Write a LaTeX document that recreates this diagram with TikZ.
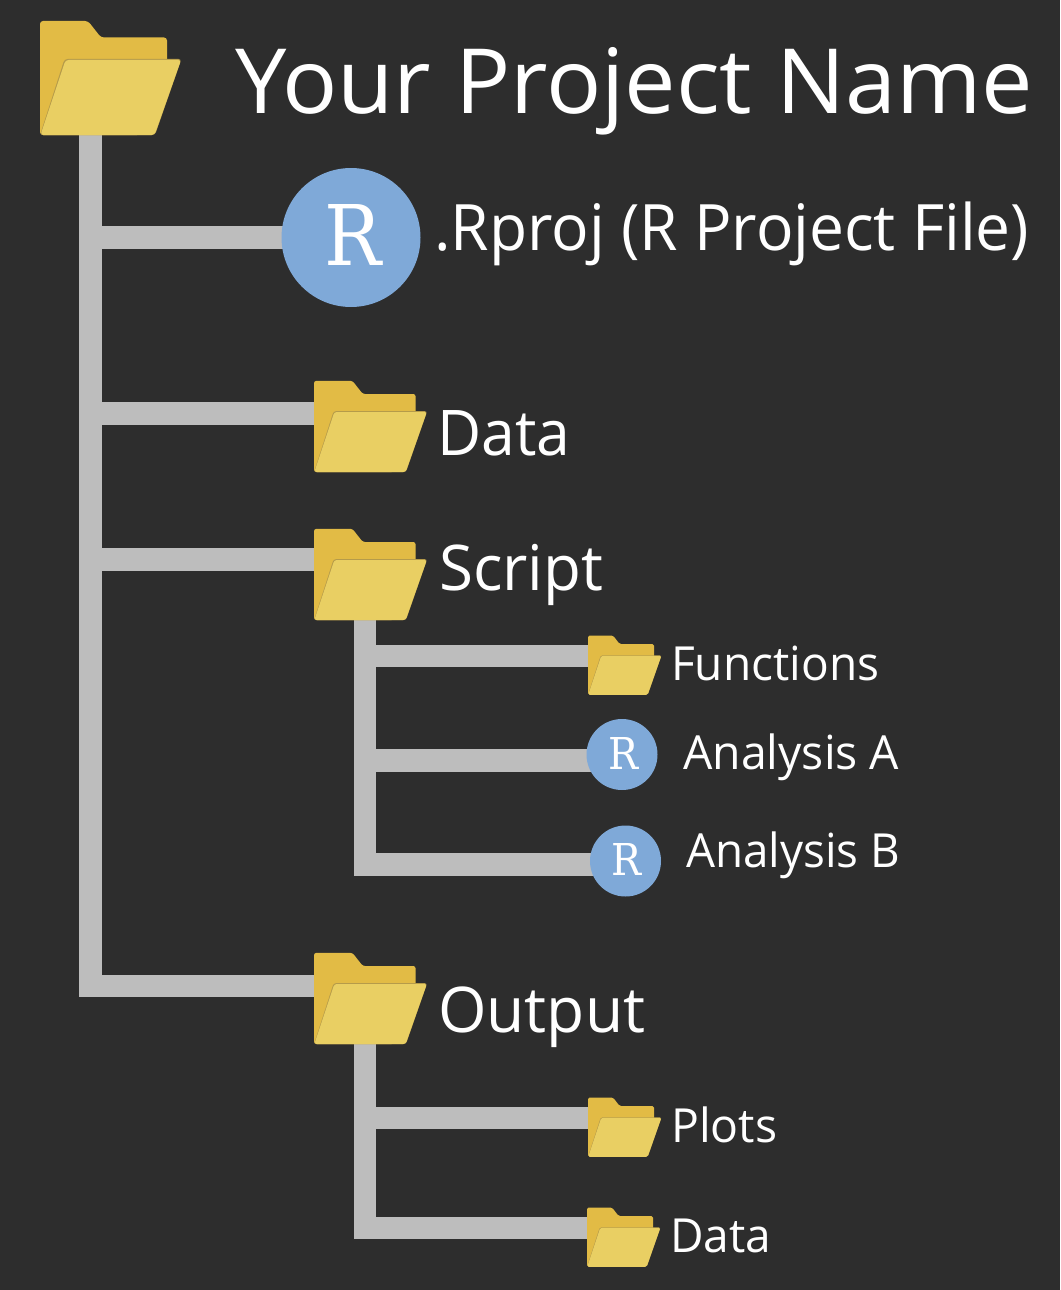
\documentclass[tikz,border=0pt]{standalone}
\usepackage{fontspec}
\usepackage{graphicx}
\setmainfont{Open Sans}
\newfontfamily\rfont{DejaVu Serif}
\usetikzlibrary{backgrounds}
\definecolor{bgdark}{HTML}{2D2D2D}
\definecolor{linegray}{HTML}{BDBDBD}
\definecolor{folderback}{HTML}{E2BB45}
\definecolor{folderfront}{HTML}{E9CF63}
\definecolor{folderedge}{HTML}{B59B4A}
\definecolor{rblue}{HTML}{7FA9D8}
\pgfdeclarelayer{bglayer}
\pgfdeclarelayer{connlayer}
\pgfsetlayers{bglayer,connlayer,main}
\newcommand{\fitlabel}[3]{\resizebox{#1pt}{\height}{\fontsize{#2pt}{#2pt}\selectfont #3}}
\newcommand{\bigR}{\hspace*{5pt}\raisebox{5pt}{\resizebox{57pt}{61pt}{\rfont R}}}
\newcommand{\smallR}{\hspace*{2pt}\raisebox{3pt}{\resizebox{30pt}{32pt}{\rfont R}}}
\tikzset{
  conn/.style={draw=linegray,line width=22.5pt,line join=miter,line cap=butt},
  lbl/.style={anchor=base west,inner sep=0pt,text=white},
  rcircle/.style={circle,fill=rblue,inner sep=0pt,text=white},
  pics/folder/.style={code={
    \node[inner sep=0pt,minimum width=#1*141pt,minimum height=#1*115pt,anchor=north west] (-box) at (0,0) {};
    \begin{scope}[x=#1*1pt,y=-#1*1pt,line join=round]
      \fill[folderback,rounded corners=#1*3pt] (0,1) -- (48,1) -- (61,17.5) -- (127,17.5) -- (127,60) -- (100,115) -- (0,115) -- cycle;
      \fill[folderedge,rounded corners=#1*3pt] (24.5,39) -- (141.5,39) -- (115,115) -- (0,115) -- cycle;
      \fill[folderfront,rounded corners=#1*3pt] (25.5,40) -- (141,40) -- (114.5,115) -- (0.5,115) -- cycle;
    \end{scope}
  }}
}
\begin{document}
\begin{tikzpicture}[x=1pt,y=-1pt]
\useasboundingbox (0,0) rectangle (1060,1290);
\begin{pgfonlayer}{bglayer}
  \fill[bgdark] (0,0) rectangle (1060,1290);
\end{pgfonlayer}

\pic (root) at (40,20) {folder=1};
\pic (data) at (314,380) {folder=0.8};
\pic (script) at (314,528) {folder=0.8};
\pic (output) at (314,952) {folder=0.8};
\pic (functions) at (588,635) {folder=0.52};
\pic (plots) at (588,1097) {folder=0.52};
\pic (datasub) at (587,1207) {folder=0.52};

\node[rcircle,minimum size=139pt] (rproj) at (351,237.5) {\bigR};
\node[rcircle,minimum size=71pt] (analysisa) at (622,754.5) {\smallR};
\node[rcircle,minimum size=71pt] (analysisb) at (625.5,861) {\smallR};

\node[lbl] (ttitle) at (235,113) {\fitlabel{798}{90}{Your Project Name}};
\node[lbl] (trproj) at (434,250) {\fitlabel{595}{64}{.Rproj (R Project File)}};
\node[lbl] (tdata) at (437,455) {\fitlabel{133}{63}{Data}};
\node[lbl] (tscript) at (439,590) {\fitlabel{164}{63}{Script}};
\node[lbl] (toutput) at (438,1032) {\fitlabel{207}{63}{Output}};
\node[lbl] (tfunctions) at (671,680) {\fitlabel{208}{47}{Functions}};
\node[lbl] (tanalysisa) at (683,769) {\fitlabel{216}{47}{Analysis A}};
\node[lbl] (tanalysisb) at (686,867) {\fitlabel{214}{47}{Analysis B}};
\node[lbl] (tplots) at (671,1142) {\fitlabel{106}{47}{Plots}};
\node[lbl] (tdatasub) at (670,1252) {\fitlabel{101}{47}{Data}};

\coordinate (trunk) at (90.5,130);
\coordinate (subscript) at (365.2,615);
\coordinate (suboutput) at (365.2,1040);
\coordinate (pdata) at (316,413.5);
\coordinate (pscript) at (316,559.5);
\coordinate (poutput) at (316,986);
\coordinate (pfunctions) at (592,656);
\coordinate (pplots) at (592,1118);
\coordinate (pdatasub) at (591,1228);
\coordinate (bena) at (622,760.5);
\coordinate (benb) at (625.5,864.5);

\begin{pgfonlayer}{connlayer}
  \draw[conn] (trunk) -- (trunk |- poutput) -- (poutput);
  \draw[conn] (trunk |- rproj.center) -- (rproj.center);
  \draw[conn] (trunk |- pdata) -- (pdata);
  \draw[conn] (trunk |- pscript) -- (pscript);
  \draw[conn] (subscript) -- (subscript |- benb) -- (benb);
  \draw[conn] (subscript |- pfunctions) -- (pfunctions);
  \draw[conn] (subscript |- bena) -- (bena);
  \draw[conn] (suboutput) -- (suboutput |- pdatasub) -- (pdatasub);
  \draw[conn] (suboutput |- pplots) -- (pplots);
\end{pgfonlayer}
\end{tikzpicture}
\end{document}
